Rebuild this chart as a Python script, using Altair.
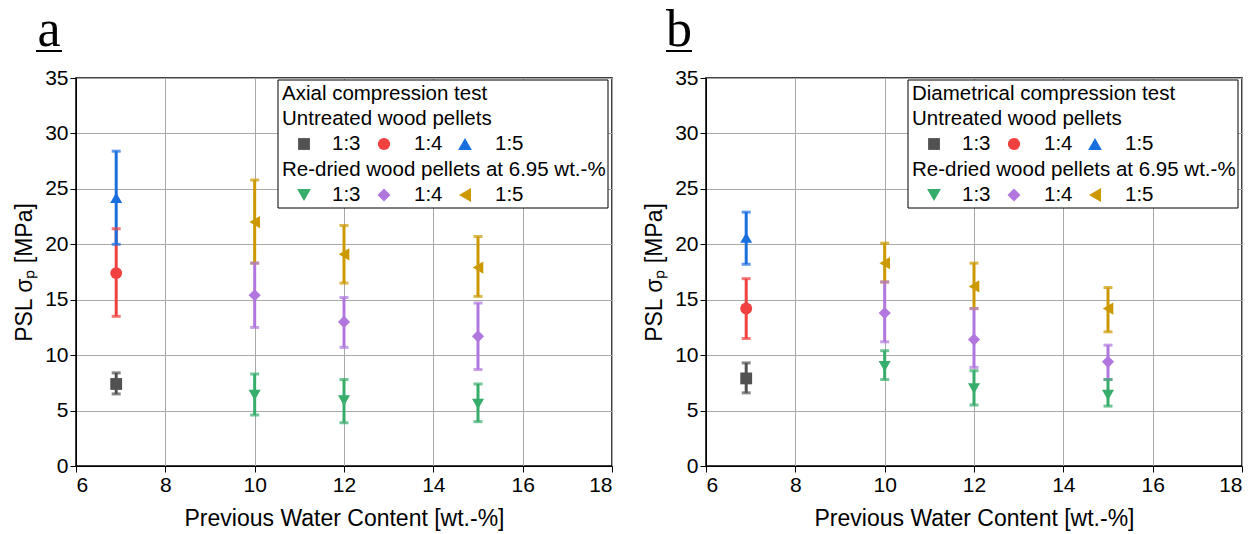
import altair as alt
import pandas as pd

# ---------------- data ----------------
ratios = ["1:3", "1:4", "1:5"]
untreated_x = 6.9
redried_x = [10, 12, 15]

# Panel a: axial compression test
a_unt_mean = [7.4, 17.4, 24.2]
a_unt_lo = [6.5, 13.5, 20.0]
a_unt_hi = [8.4, 21.4, 28.4]
a_red_13_mean = [6.4, 5.9, 5.6]
a_red_13_lo = [4.6, 3.9, 4.0]
a_red_13_hi = [8.3, 7.8, 7.4]
a_red_14_mean = [15.4, 13.0, 11.7]
a_red_14_lo = [12.5, 10.7, 8.7]
a_red_14_hi = [18.3, 15.2, 14.7]
a_red_15_mean = [22.0, 19.1, 17.9]
a_red_15_lo = [18.3, 16.5, 15.3]
a_red_15_hi = [25.8, 21.7, 20.7]

# Panel b: diametrical compression test
b_unt_mean = [7.9, 14.2, 20.6]
b_unt_lo = [6.6, 11.5, 18.2]
b_unt_hi = [9.3, 16.9, 22.9]
b_red_13_mean = [9.0, 7.0, 6.4]
b_red_13_lo = [7.8, 5.5, 5.4]
b_red_13_hi = [10.4, 8.6, 7.8]
b_red_14_mean = [13.8, 11.4, 9.4]
b_red_14_lo = [11.2, 8.9, 7.8]
b_red_14_hi = [16.6, 14.2, 10.9]
b_red_15_mean = [18.3, 16.2, 14.2]
b_red_15_lo = [16.6, 14.2, 12.1]
b_red_15_hi = [20.1, 18.3, 16.1]

series_keys = ["U 1:3", "U 1:4", "U 1:5", "R 1:3", "R 1:4", "R 1:5"]
series_colors = ["#515151", "#F14040", "#1A6FDF", "#37AD6B", "#B177DE", "#CC9900"]
series_shapes = ["square", "circle", "triangle-up", "triangle-down", "diamond", "triangle-left"]
series_sizes = [140, 150, 190, 190, 170, 190]

x_ticks = [6, 8, 10, 12, 14, 16, 18]
y_ticks = [0, 5, 10, 15, 20, 25, 30, 35]

FONT = "Liberation Sans"
W, H = 536, 388


def build_df(unt_mean, unt_lo, unt_hi, reds):
    rows = []
    for i, r in enumerate(ratios):
        rows.append(dict(series="U " + r, x=untreated_x, mean=unt_mean[i],
                         lo=unt_lo[i], hi=unt_hi[i]))
    for r, (m, lo, hi) in zip(ratios, reds):
        for j, xv in enumerate(redried_x):
            rows.append(dict(series="R " + r, x=xv, mean=m[j], lo=lo[j], hi=hi[j]))
    return pd.DataFrame(rows)


one = pd.DataFrame({"d": [0]})


def panel(df, letter, legend_title):
    color = alt.Color("series:N", scale=alt.Scale(domain=series_keys, range=series_colors), legend=None)
    shape = alt.Shape("series:N", scale=alt.Scale(domain=series_keys, range=series_shapes), legend=None)
    size = alt.Size("series:N", scale=alt.Scale(domain=series_keys, range=series_sizes), legend=None)
    xenc = alt.X("x:Q", scale=alt.Scale(domain=[6, 18], nice=False, zero=False),
                 axis=alt.Axis(values=x_ticks, title="Previous Water Content [wt.-%]",
                               grid=True, gridColor="#a8a8a8", gridWidth=1,
                               domainColor="black", tickColor="black", tickSize=6,
                               labelFontSize=21, titleFontSize=23, labelFont=FONT, titleFont=FONT,
                               labelColor="black", titleColor="black", titleFontWeight="normal",
                               labelPadding=2, titlePadding=12))
    base = alt.Chart(df)
    bars = base.mark_rule(strokeWidth=3).encode(
        x=xenc,
        y=alt.Y("lo:Q", scale=alt.Scale(domain=[0, 35], nice=False),
                axis=alt.Axis(values=y_ticks, title="PSL σₚ [MPa]",
                              grid=True, gridColor="#a8a8a8", gridWidth=1,
                              domainColor="black", tickColor="black", tickSize=6,
                              labelFontSize=21, titleFontSize=23, labelFont=FONT, titleFont=FONT,
                              labelColor="black", titleColor="black", titleFontWeight="normal",
                              labelPadding=2, titlePadding=8)),
        y2="hi:Q",
        color=color,
    )
    cap_lo = base.mark_tick(orient="horizontal", size=9, thickness=3).encode(x="x:Q", y="lo:Q", color=color)
    cap_hi = base.mark_tick(orient="horizontal", size=9, thickness=3).encode(x="x:Q", y="hi:Q", color=color)
    pts = base.mark_point(filled=True, opacity=1).encode(
        x="x:Q", y="mean:Q", color=color, shape=shape, size=size)

    layers = [bars, cap_lo, cap_hi, pts]

    # panel letter with underline
    layers.append(alt.Chart(one).mark_text(font="Liberation Serif", fontSize=52, align="center",
                                           baseline="alphabetic", color="black").encode(
        x=alt.value(-27), y=alt.value(-32), text=alt.value(letter)))
    layers.append(alt.Chart(one).mark_rule(strokeWidth=2, color="black").encode(
        x=alt.value(-40), x2=alt.value(-14), y=alt.value(-27)))

    # legend box
    layers.append(alt.Chart(one).mark_rect(fill="white", stroke="black", strokeWidth=1).encode(
        x=alt.value(202), x2=alt.value(532), y=alt.value(2), y2=alt.value(130)))
    lines = [(legend_title, 16), ("Untreated wood pellets", 41), ("Re-dried wood pellets at 6.95 wt.-%", 92)]
    for t, yy in lines:
        layers.append(alt.Chart(one).mark_text(font=FONT, fontSize=20.5, align="left", baseline="middle",
                                               color="black").encode(
            x=alt.value(206), y=alt.value(yy), text=alt.value(t)))
    sym_x = [228, 308, 389]
    txt_x = [256, 338, 419]
    for row, yy in enumerate([66, 117]):
        for k in range(3):
            idx = row * 3 + k
            layers.append(alt.Chart(one).mark_point(filled=True, size=series_sizes[idx], opacity=1,
                                                    shape=series_shapes[idx],
                                                    color=series_colors[idx]).encode(
                x=alt.value(sym_x[k]), y=alt.value(yy)))
            layers.append(alt.Chart(one).mark_text(font=FONT, fontSize=20.5, align="left",
                                                   baseline="middle", color="black").encode(
                x=alt.value(txt_x[k]), y=alt.value(yy), text=alt.value(ratios[k])))

    return alt.layer(*layers).properties(width=W, height=H)


df_a = build_df(a_unt_mean, a_unt_lo, a_unt_hi,
                [(a_red_13_mean, a_red_13_lo, a_red_13_hi),
                 (a_red_14_mean, a_red_14_lo, a_red_14_hi),
                 (a_red_15_mean, a_red_15_lo, a_red_15_hi)])
df_b = build_df(b_unt_mean, b_unt_lo, b_unt_hi,
                [(b_red_13_mean, b_red_13_lo, b_red_13_hi),
                 (b_red_14_mean, b_red_14_lo, b_red_14_hi),
                 (b_red_15_mean, b_red_15_lo, b_red_15_hi)])

pa = panel(df_a, "a", "Axial compression test")
pb = panel(df_b, "b", "Diametrical compression test")

chart = alt.hconcat(pa, pb, spacing=28).properties(
    padding={"left": 12, "top": 3, "right": 0, "bottom": 0},
    background="white",
).configure_view(stroke="black", strokeWidth=1.5)

chart.save("out.html", embed_options={"renderer": "svg", "actions": False})
